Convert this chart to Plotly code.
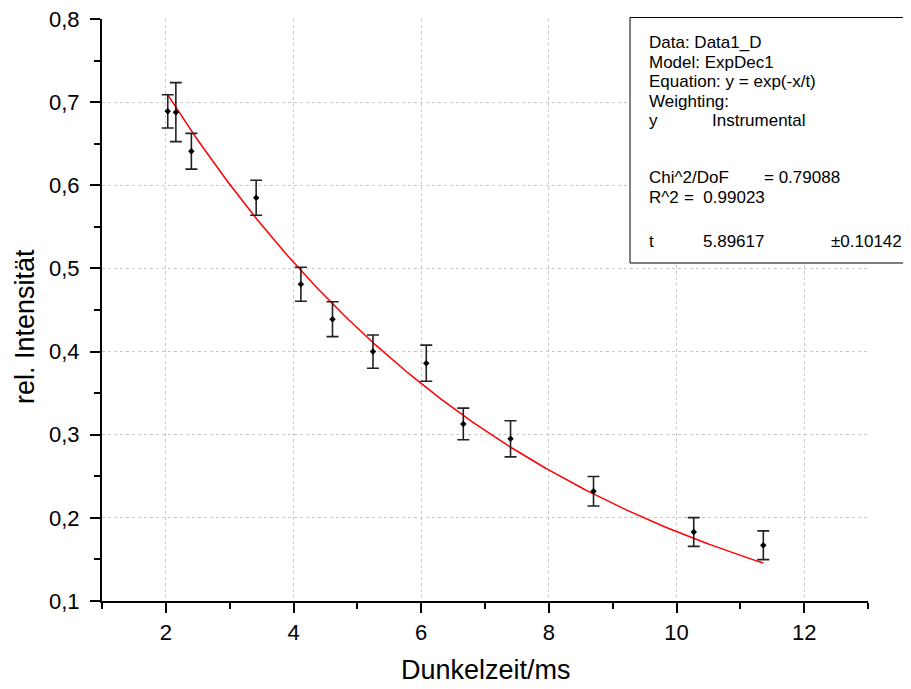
import numpy as np
import plotly.graph_objects as go

# ---- data ----
dunkelzeit = [2.03, 2.157, 2.40, 3.415, 4.116, 4.611, 5.245, 6.08, 6.66, 7.40, 8.70, 10.27, 11.36]
intensitaet = [0.689, 0.688, 0.641, 0.585, 0.481, 0.439, 0.400, 0.386, 0.313, 0.295, 0.232, 0.183, 0.167]
fehler = [0.020, 0.0355, 0.0215, 0.021, 0.0205, 0.021, 0.020, 0.0217, 0.019, 0.0217, 0.0177, 0.0173, 0.0173]

# fit parameter shown in the chart (y = exp(-x/t))
t_fit = 5.89617

box_lines = [
    ("Data: Data1_D", "", ""),
    ("Model: ExpDec1", "", ""),
    ("Equation: y = exp(-x/t)", "", ""),
    ("Weighting:", "", ""),
    ("y", "Instrumental", ""),
    ("Chi^2/DoF", "= 0.79088", ""),
    ("R^2", "= &nbsp;0.99023", ""),
    ("t", "5.89617", "±0.10142"),
]

# ---- layout geometry (page pixels; the page body has an 8px margin) ----
OFF = 8
W, H = 911 - OFF, 689 - OFF
ML, MR, MT, MB = 102 - OFF, 43, 19 - OFF, 88
PW, PH = W - ML - MR, H - MT - MB


def px(x):
    return (x - OFF - ML) / PW


def py(y):
    return (OFF + H - MB - y) / PH


FONT = "Liberation Sans, Arial, sans-serif"

x_fit = np.linspace(min(dunkelzeit), max(dunkelzeit), 200)
y_fit = np.exp(-x_fit / t_fit)

fig = go.Figure()
fig.add_trace(go.Scatter(
    x=x_fit, y=y_fit, mode="lines",
    line=dict(color="#ff0000", width=1.5),
    showlegend=False, hoverinfo="skip"))
fig.add_trace(go.Scatter(
    x=dunkelzeit, y=intensitaet, mode="markers",
    marker=dict(color="black", size=5, symbol="diamond"),
    error_y=dict(type="data", array=fehler, visible=True,
                 color="#222222", thickness=1.6, width=6),
    showlegend=False))

axis_common = dict(
    showline=True, linecolor="black", linewidth=2, mirror=False,
    ticks="outside", ticklen=10, tickwidth=2, tickcolor="black",
    showgrid=True, gridcolor="#c8c8c8", griddash="dot", gridwidth=1,
    zeroline=False, automargin=False, ticklabeloverflow="allow",
    tickfont=dict(family=FONT, size=22, color="black"),
)

fig.update_xaxes(
    range=[1, 13], tick0=0, dtick=2, ticklabelstandoff=1,
    minor=dict(dtick=1, tick0=1, ticklen=6, tickwidth=2, tickcolor="black",
               ticks="outside", showgrid=False),
    **axis_common)
fig.update_yaxes(
    range=[0.09995, 0.80005], tick0=0, dtick=0.1, tickformat=".1f",
    ticklabelstandoff=6,
    minor=dict(dtick=0.05, tick0=0.05, ticklen=6, tickwidth=2, tickcolor="black",
               ticks="outside", showgrid=False),
    **axis_common)

# info box
fig.add_shape(type="rect", xref="paper", yref="paper",
              x0=px(630), x1=px(909.5), y0=py(263), y1=py(17.5),
              line=dict(color="black", width=1), fillcolor="white", layer="above")

line_y = [43, 62.5, 82, 101, 120.5, 177, 197, 242]
col_x = {
    4: (647, 710, None),
    5: (647, 761.5, None),
    6: (647, 682, None),
    7: (647, 701, None),
}
for i, (a, b, c) in enumerate(box_lines):
    xs = col_x.get(i, (647, None, None))
    for txt, xx in zip((a, b), xs):
        if txt and xx is not None:
            fig.add_annotation(
                x=px(xx), y=py(line_y[i]), xref="paper", yref="paper",
                text=txt, showarrow=False, xanchor="left", yanchor="middle",
                font=dict(family=FONT, size=17, color="black"))
    if c:
        fig.add_annotation(
            x=px(904), y=py(line_y[i]), xref="paper", yref="paper",
            text=c, showarrow=False, xanchor="right", yanchor="middle",
            font=dict(family=FONT, size=17, color="black"))

# axis titles
fig.add_annotation(x=px(485.5), y=py(670), xref="paper", yref="paper",
                   text="Dunkelzeit/ms", showarrow=False,
                   xanchor="center", yanchor="middle",
                   font=dict(family=FONT, size=27, color="black"))
fig.add_annotation(x=px(25), y=py(327), xref="paper", yref="paper",
                   text="rel. Intensität", showarrow=False, textangle=-90,
                   xanchor="center", yanchor="middle",
                   font=dict(family=FONT, size=27, color="black"))

fig.update_layout(
    width=W, height=H,
    margin=dict(l=ML, r=MR, t=MT, b=MB, pad=0, autoexpand=False),
    paper_bgcolor="white", plot_bgcolor="white",
    separators=",.",
    font=dict(family=FONT, color="black"),
    showlegend=False,
)

fig.write_html("out.html")
